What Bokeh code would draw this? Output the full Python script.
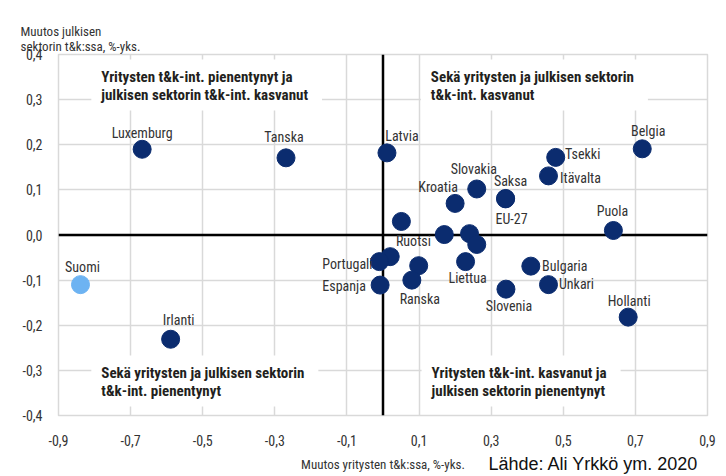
from bokeh.plotting import figure
from bokeh.models import ColumnDataSource, Range1d, FixedTicker, CustomJSTickFormatter, Span, Label, Title
from bokeh.core.properties import value
from bokeh.embed import file_html
from bokeh.resources import INLINE

# ---- data ----
countries = ["Luxemburg", "Tanska", "Latvia", "Belgia", "Tsekki", "Itävalta",
             "Slovakia", "Saksa", "EU-27", "Kroatia", "Ruotsi", "Puola",
             "", "", "", "", "Portugali", "", "Liettua", "Bulgaria",
             "Ranska", "Espanja", "Unkari", "Slovenia", "Hollanti", "Suomi", "Irlanti"]
business_change = [-0.668, -0.269, 0.011, 0.719, 0.479, 0.459,
                   0.260, 0.340, 0.340, 0.200, 0.051, 0.639,
                   0.170, 0.240, 0.260, 0.020, -0.010, 0.099, 0.229, 0.410,
                   0.080, -0.008, 0.459, 0.341, 0.680, -0.839, -0.589]
public_change = [0.190, 0.171, 0.182, 0.191, 0.172, 0.131,
                 0.102, 0.081, 0.080, 0.070, 0.030, 0.010,
                 0.001, 0.003, -0.021, -0.048, -0.059, -0.068, -0.059, -0.069,
                 -0.100, -0.111, -0.110, -0.120, -0.182, -0.110, -0.231]
highlight = "Suomi"

x_ticks = [-0.9, -0.7, -0.5, -0.3, -0.1, 0.1, 0.3, 0.5, 0.7, 0.9]
y_ticks = [-0.4, -0.3, -0.2, -0.1, 0.0, 0.1, 0.2, 0.3, 0.4]

y_title_lines = ["Muutos julkisen", "sektorin t&k:ssa, %-yks."]
x_title = "Muutos yritysten t&k:ssa, %-yks."
source_text = "Lähde: Ali Yrkkö ym. 2020"
quadrants = [
    ("Yritysten t&k-int. pienentynyt ja\njulkisen sektorin t&k-int. kasvanut", -0.809, 0.389),
    ("Sekä yritysten ja julkisen sektorin\nt&k-int. kasvanut", 0.105, 0.389),
    ("Sekä yritysten ja julkisen sektorin\nt&k-int. pienentynyt", -0.809, -0.267),
    ("Yritysten t&k-int. kasvanut ja\njulkisen sektorin pienentynyt", 0.107, -0.267),
]

# label offsets (screen px, +y down) relative to each point
label_offsets = {
    "Luxemburg": (0, -16), "Tanska": (-2, -21), "Latvia": (15, -17),
    "Belgia": (6, -18), "Tsekki": (27, -3), "Itävalta": (32, 2),
    "Slovakia": (-3, -20), "Saksa": (5, -17), "EU-27": (6, 20),
    "Kroatia": (-17, -16), "Ruotsi": (12, 20), "Puola": (-1, -19),
    "Portugali": (-32, 2), "Liettua": (2, 16), "Bulgaria": (34, 0),
    "Ranska": (8, 19), "Espanja": (-36, 1), "Unkari": (28, -1),
    "Slovenia": (3, 17), "Hollanti": (1, -16), "Suomi": (2, -18),
    "Irlanti": (8, -19),
}

NAVY = "#0b2c6f"
LIGHT = "#6db3f2"
GRID = "#d9d9d9"
NARROW = "Roboto Condensed, DejaVu Sans Condensed, sans-serif"

colors = [LIGHT if c == highlight else NAVY for c in countries]
dx = [label_offsets.get(c, (0, 0))[0] for c in countries]
dy = [label_offsets.get(c, (0, 0))[1] for c in countries]

src = ColumnDataSource(dict(x=business_change, y=public_change, name=countries,
                            color=colors, dx=dx, dy=dy))

p = figure(width=726, height=476, output_backend="svg", toolbar_location=None,
           x_range=Range1d(-0.9, 0.9), y_range=Range1d(-0.4, 0.4),
           min_border_left=58, min_border_right=19, min_border_top=54, min_border_bottom=61)
p.background_fill_color = "white"
p.border_fill_color = "white"
p.outline_line_color = GRID
p.outline_line_width = 1.5

fmt = CustomJSTickFormatter(code="return tick.toFixed(1).replace('.', ',');")
for ax, ticks in ((p.xaxis[0], x_ticks), (p.yaxis[0], y_ticks)):
    ax.ticker = FixedTicker(ticks=ticks)
    ax.formatter = fmt
    ax.axis_line_color = None
    ax.major_tick_line_color = None
    ax.minor_tick_line_color = None
    ax.major_tick_out = 0
    ax.major_tick_in = 0
    ax.minor_tick_out = 0
    ax.minor_tick_in = 0
    ax.major_label_text_font = NARROW
    ax.major_label_text_font_size = "14px"
    ax.major_label_text_color = "#333333"
p.yaxis.major_label_standoff = 16
p.xaxis.major_label_standoff = 19
p.xaxis.axis_label = x_title
p.xaxis.axis_label_text_font = NARROW
p.xaxis.axis_label_text_font_size = "13px"
p.xaxis.axis_label_text_font_style = "normal"
p.xaxis.axis_label_text_color = "#333333"
p.xaxis.axis_label_standoff = 8

p.xgrid.grid_line_color = GRID
p.ygrid.grid_line_color = GRID
p.xgrid.grid_line_width = 1.5
p.ygrid.grid_line_width = 1.5

# y title above the frame: one Title per line, inner line first
for line, gap in ((y_title_lines[1], 2), (y_title_lines[0], -6)):
    p.add_layout(Title(text=line, align="left", offset=-38, standoff=gap,
                       text_font=NARROW, text_font_size="13px", text_font_style="normal",
                       text_color="#333333"), "above")

# source note below, top-aligned and pulled up next to the x title
p.add_layout(Title(text=source_text, align="left", offset=430, standoff=-42,
                   vertical_align="top",
                   text_font="Liberation Sans", text_font_size="18px", text_font_style="normal",
                   text_color="#111111"), "below")

# quadrant descriptions on white boxes
for txt, qx, qy in quadrants:
    p.add_layout(Label(x=qx, y=qy, text=txt, text_font=NARROW, text_font_style="bold",
                       text_font_size="15px", text_color="#231f20", text_line_height=1.0,
                       anchor="top_left", background_fill_color="white",
                       padding=dict(left=10, right=14, top=9, bottom=6), level="underlay"))

# zero lines
p.add_layout(Span(location=0, dimension="height", line_color="black", line_width=2.5, level="underlay"))
p.add_layout(Span(location=0, dimension="width", line_color="black", line_width=2.5, level="underlay"))

p.scatter("x", "y", source=src, size=18, fill_color="color", line_color="color")
p.text("x", "y", text="name", source=src, x_offset="dx", y_offset="dy",
       text_align="center", text_baseline="middle", text_font=value(NARROW),
       text_font_size="14px", text_color="#333333")

open("out.html", "w").write(file_html(p, INLINE))
